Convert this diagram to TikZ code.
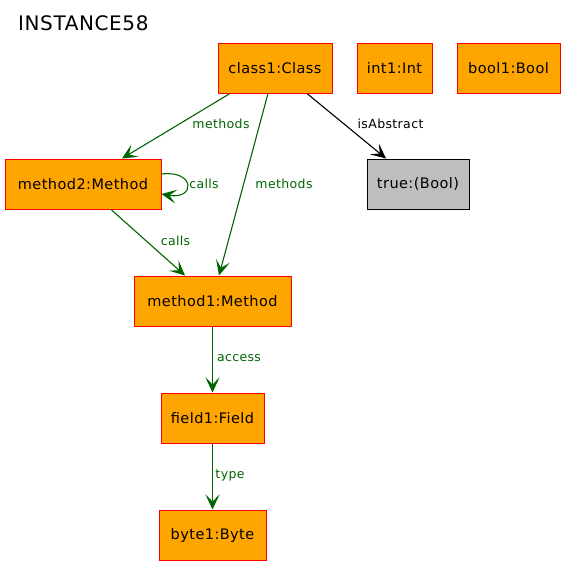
\documentclass[tikz,border=0pt]{standalone}
\usepackage{fontspec}
\setmainfont{DejaVu Sans}
\newfontfamily\spaced[LetterSpace=3]{DejaVu Sans}
\usetikzlibrary{arrows.meta}
\definecolor{boxorange}{HTML}{FFA500}
\definecolor{edgegreen}{HTML}{006400}
\definecolor{valgray}{HTML}{BEBEBE}
\tikzset{
  obj/.style={draw=red, fill=boxorange, line width=1pt, minimum height=50pt, inner sep=0pt, font=\spaced\fontsize{14.5}{16}\selectfont},
  val/.style={draw=black, fill=valgray, line width=1pt, minimum height=50pt, inner sep=0pt, font=\spaced\fontsize{14.5}{16}\selectfont},
  edge/.style={draw=edgegreen, line width=1.1pt, -{Stealth[length=15pt,width=14pt,inset=7pt]}},
  bedge/.style={draw=black, line width=1.1pt, -{Stealth[length=15pt,width=14pt,inset=7pt]}},
  lbl/.style={font=\spaced\fontsize{12.5}{14}\selectfont, text=edgegreen, inner sep=0pt},
  blbl/.style={font=\spaced\fontsize{12.5}{14}\selectfont, text=black, inner sep=0pt}
}
\begin{document}
\begin{tikzpicture}[x=1pt,y=-1pt]
\useasboundingbox (0,0) rectangle (565,565);
\node[anchor=west, font=\spaced\fontsize{20}{22}\selectfont, inner sep=0pt] (title) at (18,23) {INSTANCE58};
\node[obj, minimum width=114pt] (c1) at (275,68) {class1:Class};
\node[obj, minimum width=75pt] (i1) at (394.5,68) {int1:Int};
\node[obj, minimum width=103pt] (b1) at (508.5,68) {bool1:Bool};
\node[val, minimum width=102pt] (tr) at (418,184) {true:(Bool)};
\node[obj, minimum width=156pt] (m2) at (83,184) {method2:Method};
\node[obj, minimum width=157pt] (m1) at (212.5,301) {method1:Method};
\node[obj, minimum width=103pt] (f1) at (212.5,418) {field1:Field};
\node[obj, minimum width=107pt] (by) at (212.5,535) {byte1:Byte};

\draw[edge] ([xshift=-45pt]c1.south) -- ([xshift=39pt]m2.north);
\node[lbl] (l1) at (221,124) {methods};
\draw[edge] ([xshift=-7pt]c1.south) -- ([xshift=6.5pt]m1.north);
\node[lbl] (l2) at (284,184) {methods};
\draw[bedge] ([xshift=32pt]c1.south) -- ([xshift=-32pt]tr.north);
\node[blbl] (l3) at (390.5,124) {isAbstract};
\draw[edge] ([yshift=10pt]m2.east) .. controls +(34,-4) and +(34,6) .. ([yshift=-10pt]m2.east);
\node[lbl] (l4) at (204,184) {calls};
\draw[edge] ([xshift=28pt]m2.south) -- ([xshift=-27.5pt]m1.north);
\node[lbl] (l5) at (175.5,241) {calls};
\draw[edge] (m1) -- (f1);
\node[lbl] (l6) at (239,358) {access};
\draw[edge] (f1) -- (by);
\node[lbl] (l7) at (230,475) {type};
\end{tikzpicture}
\end{document}
